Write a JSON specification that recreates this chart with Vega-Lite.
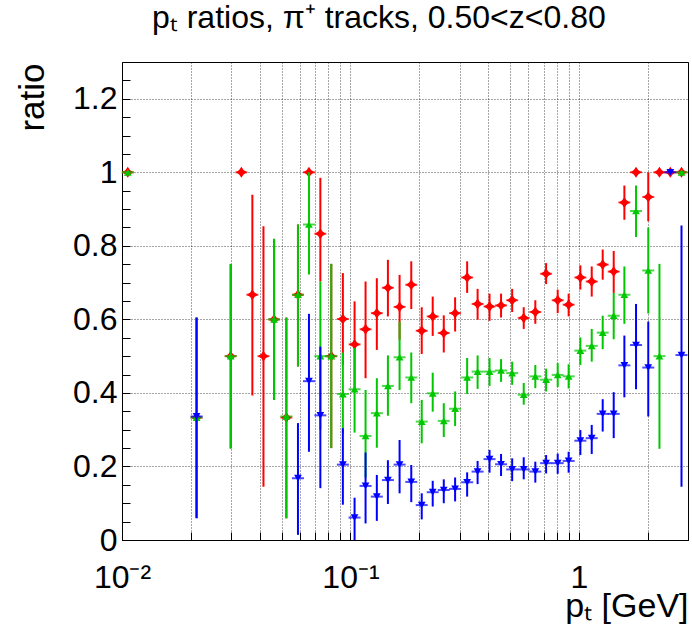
{
  "$schema": "https://vega.github.io/schema/vega-lite/v6.json",
  "width": 566,
  "height": 478,
  "autosize": "none",
  "padding": {"left": 122, "top": 62, "right": 4, "bottom": 98},
  "background": "white",
  "config": {"view": {"stroke": "#000", "strokeWidth": 1}, "font": "Liberation Sans"},
  "title": {"text": "pₜ ratios,  π⁺ tracks, 0.50<z<0.80", "anchor": "start", "frame": "group", "dx": 30, "offset": 27, "fontSize": 32, "fontWeight": "normal", "font": "Liberation Sans", "color": "#000"},
  "datasets": {
    "pts": [
      {"s":"s1","x":0.0106,"y":1,"lo":1,"hi":1},
      {"s":"s1","x":0.0212,"y":0.333,"lo":0.06,"hi":0.605},
      {"s":"s1","x":0.0299,"y":0.5,"lo":0.25,"hi":0.75},
      {"s":"s1","x":0.0333,"y":1,"lo":1,"hi":1},
      {"s":"s1","x":0.0372,"y":0.667,"lo":0.393,"hi":0.939},
      {"s":"s1","x":0.0416,"y":0.5,"lo":0.145,"hi":0.853},
      {"s":"s1","x":0.0463,"y":0.6,"lo":0.381,"hi":0.819},
      {"s":"s1","x":0.0524,"y":0.333,"lo":0.059,"hi":0.605},
      {"s":"s1","x":0.0589,"y":0.667,"lo":0.472,"hi":0.858},
      {"s":"s1","x":0.0658,"y":1,"lo":1,"hi":1},
      {"s":"s1","x":0.0738,"y":0.833,"lo":0.703,"hi":0.985},
      {"s":"s1","x":0.0824,"y":0.5,"lo":0.25,"hi":0.751},
      {"s":"s1","x":0.0926,"y":0.601,"lo":0.476,"hi":0.726},
      {"s":"s1","x":0.1042,"y":0.532,"lo":0.413,"hi":0.649},
      {"s":"s1","x":0.1164,"y":0.573,"lo":0.44,"hi":0.703},
      {"s":"s1","x":0.1304,"y":0.617,"lo":0.517,"hi":0.712},
      {"s":"s1","x":0.1458,"y":0.686,"lo":0.608,"hi":0.762},
      {"s":"s1","x":0.164,"y":0.634,"lo":0.545,"hi":0.721},
      {"s":"s1","x":0.1845,"y":0.694,"lo":0.628,"hi":0.758},
      {"s":"s1","x":0.205,"y":0.569,"lo":0.506,"hi":0.633},
      {"s":"s1","x":0.229,"y":0.608,"lo":0.555,"hi":0.662},
      {"s":"s1","x":0.256,"y":0.563,"lo":0.51,"hi":0.611},
      {"s":"s1","x":0.287,"y":0.617,"lo":0.567,"hi":0.66},
      {"s":"s1","x":0.324,"y":0.714,"lo":0.672,"hi":0.758},
      {"s":"s1","x":0.36,"y":0.642,"lo":0.599,"hi":0.683},
      {"s":"s1","x":0.406,"y":0.635,"lo":0.596,"hi":0.67},
      {"s":"s1","x":0.456,"y":0.638,"lo":0.605,"hi":0.67},
      {"s":"s1","x":0.51,"y":0.652,"lo":0.62,"hi":0.683},
      {"s":"s1","x":0.573,"y":0.604,"lo":0.574,"hi":0.633},
      {"s":"s1","x":0.644,"y":0.62,"lo":0.588,"hi":0.652},
      {"s":"s1","x":0.718,"y":0.724,"lo":0.696,"hi":0.753},
      {"s":"s1","x":0.807,"y":0.652,"lo":0.617,"hi":0.681},
      {"s":"s1","x":0.901,"y":0.64,"lo":0.608,"hi":0.67},
      {"s":"s1","x":1.014,"y":0.714,"lo":0.681,"hi":0.747},
      {"s":"s1","x":1.137,"y":0.703,"lo":0.662,"hi":0.744},
      {"s":"s1","x":1.27,"y":0.749,"lo":0.708,"hi":0.79},
      {"s":"s1","x":1.419,"y":0.73,"lo":0.672,"hi":0.786},
      {"s":"s1","x":1.58,"y":0.918,"lo":0.871,"hi":0.964},
      {"s":"s1","x":1.777,"y":1,"lo":1,"hi":1},
      {"s":"s1","x":2.01,"y":0.933,"lo":0.867,"hi":1.0},
      {"s":"s1","x":2.25,"y":1,"lo":1,"hi":1},
      {"s":"s1","x":2.51,"y":1,"lo":1,"hi":1},
      {"s":"s1","x":2.81,"y":1,"lo":1,"hi":1},

      {"s":"s2","x":0.0106,"y":1,"lo":1,"hi":1},
      {"s":"s2","x":0.0212,"y":0.333,"lo":0.06,"hi":0.605},
      {"s":"s2","x":0.0299,"y":0.5,"lo":0.248,"hi":0.751},
      {"s":"s2","x":0.0463,"y":0.6,"lo":0.381,"hi":0.819},
      {"s":"s2","x":0.0524,"y":0.336,"lo":0.059,"hi":0.605},
      {"s":"s2","x":0.0589,"y":0.667,"lo":0.472,"hi":0.858},
      {"s":"s2","x":0.0658,"y":0.858,"lo":0.722,"hi":1.0},
      {"s":"s2","x":0.0738,"y":0.5,"lo":0.3,"hi":0.703},
      {"s":"s2","x":0.0824,"y":0.5,"lo":0.25,"hi":0.751},
      {"s":"s2","x":0.0926,"y":0.397,"lo":0.29,"hi":0.51},
      {"s":"s2","x":0.1042,"y":0.41,"lo":0.292,"hi":0.522},
      {"s":"s2","x":0.1164,"y":0.283,"lo":0.17,"hi":0.408},
      {"s":"s2","x":0.1304,"y":0.345,"lo":0.251,"hi":0.44},
      {"s":"s2","x":0.1458,"y":0.419,"lo":0.338,"hi":0.502},
      {"s":"s2","x":0.164,"y":0.497,"lo":0.408,"hi":0.594},
      {"s":"s2","x":0.1845,"y":0.442,"lo":0.372,"hi":0.51},
      {"s":"s2","x":0.205,"y":0.322,"lo":0.263,"hi":0.381},
      {"s":"s2","x":0.229,"y":0.399,"lo":0.349,"hi":0.455},
      {"s":"s2","x":0.256,"y":0.324,"lo":0.28,"hi":0.372},
      {"s":"s2","x":0.287,"y":0.357,"lo":0.31,"hi":0.404},
      {"s":"s2","x":0.324,"y":0.442,"lo":0.397,"hi":0.495},
      {"s":"s2","x":0.36,"y":0.458,"lo":0.411,"hi":0.502},
      {"s":"s2","x":0.406,"y":0.458,"lo":0.419,"hi":0.495},
      {"s":"s2","x":0.456,"y":0.461,"lo":0.43,"hi":0.492},
      {"s":"s2","x":0.51,"y":0.454,"lo":0.422,"hi":0.485},
      {"s":"s2","x":0.573,"y":0.395,"lo":0.368,"hi":0.427},
      {"s":"s2","x":0.644,"y":0.445,"lo":0.413,"hi":0.476},
      {"s":"s2","x":0.718,"y":0.436,"lo":0.404,"hi":0.466},
      {"s":"s2","x":0.807,"y":0.449,"lo":0.416,"hi":0.481},
      {"s":"s2","x":0.901,"y":0.445,"lo":0.412,"hi":0.478},
      {"s":"s2","x":1.014,"y":0.515,"lo":0.476,"hi":0.551},
      {"s":"s2","x":1.137,"y":0.528,"lo":0.485,"hi":0.574},
      {"s":"s2","x":1.27,"y":0.564,"lo":0.519,"hi":0.61},
      {"s":"s2","x":1.419,"y":0.61,"lo":0.546,"hi":0.672},
      {"s":"s2","x":1.58,"y":0.667,"lo":0.588,"hi":0.744},
      {"s":"s2","x":1.777,"y":0.895,"lo":0.824,"hi":0.964},
      {"s":"s2","x":2.01,"y":0.733,"lo":0.616,"hi":0.85},
      {"s":"s2","x":2.25,"y":0.5,"lo":0.248,"hi":0.751},
      {"s":"s2","x":2.81,"y":1,"lo":1,"hi":1},

      {"s":"s3","x":0.0212,"y":0.336,"lo":0.059,"hi":0.605},
      {"s":"s3","x":0.0589,"y":0.168,"lo":0.014,"hi":0.318},
      {"s":"s3","x":0.0658,"y":0.432,"lo":0.24,"hi":0.615},
      {"s":"s3","x":0.0738,"y":0.339,"lo":0.141,"hi":0.526},
      {"s":"s3","x":0.0926,"y":0.205,"lo":0.096,"hi":0.304},
      {"s":"s3","x":0.1042,"y":0.061,"lo":0.0,"hi":0.115},
      {"s":"s3","x":0.1164,"y":0.147,"lo":0.045,"hi":0.238},
      {"s":"s3","x":0.1304,"y":0.118,"lo":0.052,"hi":0.177},
      {"s":"s3","x":0.1458,"y":0.163,"lo":0.098,"hi":0.217},
      {"s":"s3","x":0.164,"y":0.205,"lo":0.127,"hi":0.272},
      {"s":"s3","x":0.1845,"y":0.158,"lo":0.103,"hi":0.204},
      {"s":"s3","x":0.205,"y":0.095,"lo":0.056,"hi":0.127},
      {"s":"s3","x":0.229,"y":0.13,"lo":0.091,"hi":0.161},
      {"s":"s3","x":0.256,"y":0.136,"lo":0.1,"hi":0.165},
      {"s":"s3","x":0.287,"y":0.139,"lo":0.105,"hi":0.17},
      {"s":"s3","x":0.324,"y":0.157,"lo":0.118,"hi":0.184},
      {"s":"s3","x":0.36,"y":0.186,"lo":0.152,"hi":0.215},
      {"s":"s3","x":0.406,"y":0.22,"lo":0.183,"hi":0.245},
      {"s":"s3","x":0.456,"y":0.206,"lo":0.174,"hi":0.234},
      {"s":"s3","x":0.51,"y":0.192,"lo":0.16,"hi":0.222},
      {"s":"s3","x":0.573,"y":0.192,"lo":0.165,"hi":0.225},
      {"s":"s3","x":0.644,"y":0.186,"lo":0.156,"hi":0.213},
      {"s":"s3","x":0.718,"y":0.209,"lo":0.181,"hi":0.231},
      {"s":"s3","x":0.807,"y":0.209,"lo":0.18,"hi":0.235},
      {"s":"s3","x":0.901,"y":0.215,"lo":0.183,"hi":0.24},
      {"s":"s3","x":1.014,"y":0.27,"lo":0.231,"hi":0.299},
      {"s":"s3","x":1.137,"y":0.277,"lo":0.234,"hi":0.313},
      {"s":"s3","x":1.27,"y":0.343,"lo":0.295,"hi":0.383},
      {"s":"s3","x":1.419,"y":0.343,"lo":0.277,"hi":0.402},
      {"s":"s3","x":1.58,"y":0.475,"lo":0.388,"hi":0.556},
      {"s":"s3","x":1.777,"y":0.53,"lo":0.41,"hi":0.642},
      {"s":"s3","x":2.01,"y":0.469,"lo":0.336,"hi":0.594},
      {"s":"s3","x":2.51,"y":1,"lo":1,"hi":1},
      {"s":"s3","x":2.81,"y":0.503,"lo":0.145,"hi":0.855}
    ]
  },
  "data": {"name": "pts"},
  "encoding": {
    "x": {
      "field": "x", "type": "quantitative",
      "scale": {"type": "log", "domain": [0.01, 3], "nice": false},
      "axis": {
        "values": [0.01,0.02,0.03,0.04,0.05,0.06,0.07,0.08,0.09,0.1,0.2,0.3,0.4,0.5,0.6,0.7,0.8,0.9,1,2,3],
        "labelExpr": "datum.value==0.01?'10⁻²':datum.value==0.1?'10⁻¹':datum.value==1?'1':''",
        "labelFlush": false, "labelOverlap": false,
        "labelFont": "Liberation Sans", "labelFontSize": 32, "labelColor": "#000", "labelPadding": 30,
        "tickSize": -8, "tickColor": "#000", "domainColor": "#000",
        "grid": true, "gridDash": [1, 2], "gridColor": "#000", "gridOpacity": 0.7,
        "title": "pₜ [GeV]", "titleFont": "Liberation Sans", "titleFontSize": 34, "titleFontWeight": "normal", "titleColor": "#000",
        "titleAlign": "right", "titleAnchor": "end", "titleX": 566, "titleY": 76, "titleBaseline": "alphabetic"
      }
    },
    "y": {
      "field": "y", "type": "quantitative", "title": "ratio",
      "scale": {"domain": [0, 1.3], "nice": false, "zero": false},
      "axis": {
        "values": [0,0.05,0.1,0.15,0.2,0.25,0.3,0.35,0.4,0.45,0.5,0.55,0.6,0.65,0.7,0.75,0.8,0.85,0.9,0.95,1,1.05,1.1,1.15,1.2,1.25],
        "labelExpr": "indexof(['0','0.2','0.4','0.6','0.8','1','1.2'], format(datum.value,'~g'))>=0 ? format(datum.value,'~g') : ''",
        "labelOverlap": false, "labelFlush": false,
        "labelFont": "Liberation Sans", "labelFontSize": 32, "labelColor": "#000", "labelPadding": 13,
        "tickSize": -8, "tickColor": "#000", "domainColor": "#000",
        "grid": true, "gridDash": [1, 2], "gridColor": "#000",
        "gridOpacity": {"condition": {"test": "indexof([0.2,0.4,0.6,0.8,1,1.2], datum.value)>=0", "value": 0.7}, "value": 0},
        "titleFont": "Liberation Sans", "titleFontSize": 35, "titleFontWeight": "normal", "titleColor": "#000",
        "titleAlign": "right", "titleAnchor": "end", "titleAngle": 270, "titleX": -79, "titleY": 1, "titleBaseline": "alphabetic"
      }
    },
    "color": {"field": "s", "type": "nominal", "scale": {"domain": ["s1","s2","s3"], "range": ["#ff0000","#00c800","#0000ff"]}, "legend": null}
  },
  "layer": [
    {
      "transform": [{"filter": "datum.s=='s1'"}],
      "layer": [
        {"mark": {"type": "rule", "strokeWidth": 2}, "encoding": {"y": {"field": "lo", "type": "quantitative", "title": "ratio"}, "y2": {"field": "hi"}}},
        {"mark": {"type": "tick", "orient": "horizontal", "size": 12, "thickness": 2}},
        {"mark": {"type": "point", "filled": true, "opacity": 1, "size": 121, "shape": "M0,-1L0.4,-0.4L1,0L0.4,0.4L0,1L-0.4,0.4L-1,0L-0.4,-0.4Z"}}
      ]
    },
    {
      "transform": [{"filter": "datum.s=='s2'"}],
      "layer": [
        {"mark": {"type": "rule", "strokeWidth": 2}, "encoding": {"y": {"field": "lo", "type": "quantitative", "title": "ratio"}, "y2": {"field": "hi"}}},
        {"mark": {"type": "tick", "orient": "horizontal", "size": 12, "thickness": 2}},
        {"mark": {"type": "point", "filled": true, "opacity": 1, "size": 60, "shape": "triangle-up"}}
      ]
    },
    {
      "transform": [{"filter": "datum.s=='s3'"}],
      "layer": [
        {"mark": {"type": "rule", "strokeWidth": 2}, "encoding": {"y": {"field": "lo", "type": "quantitative", "title": "ratio"}, "y2": {"field": "hi"}}},
        {"mark": {"type": "tick", "orient": "horizontal", "size": 12, "thickness": 2}},
        {"mark": {"type": "point", "filled": true, "opacity": 1, "size": 60, "shape": "triangle-down"}}
      ]
    }
  ]
}
